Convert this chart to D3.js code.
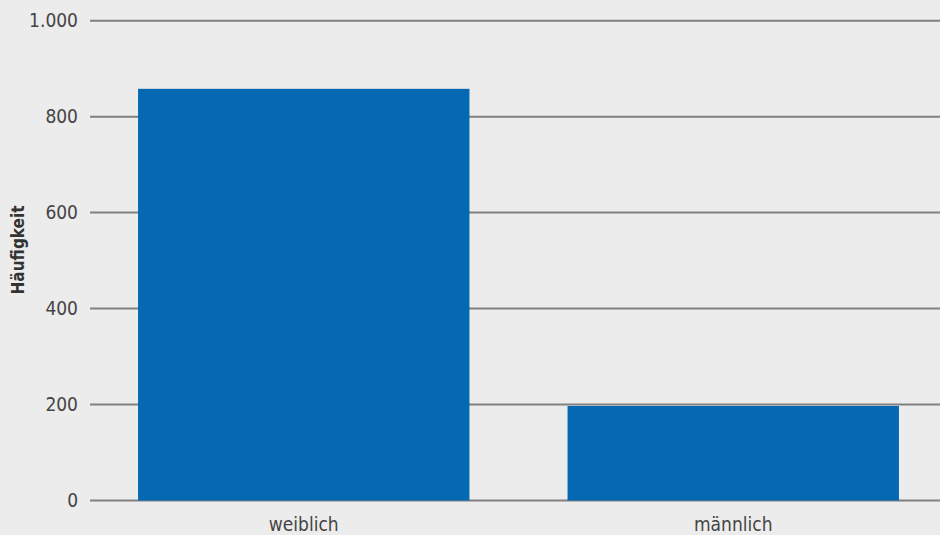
<!DOCTYPE html>
<html>
<head>
<meta charset="utf-8">
<script src="https://cdn.jsdelivr.net/npm/d3@7"></script>
<style>
  html, body { margin: 0; padding: 0; background: #ececec; }
  svg { display: block; }
  .lbl { font-family: "Liberation Sans Narrow", "DejaVu Sans Condensed", sans-serif; fill: #444; }
</style>
</head>
<body>
<script>
const categories = ["weiblich", "männlich"];
const values = [858, 197];
const yTicks = [0, 200, 400, 600, 800, 1000];
const yTitle = "Häufigkeit";

const width = 940, height = 535;

const svg = d3.select("body")
  .append("svg")
  .attr("width", width)
  .attr("height", height);

const de = d3.formatLocale({ decimal: ",", thousands: ".", grouping: [3], currency: ["", " €"] });
const fmt = de.format(",d");

const x = d3.scaleBand()
  .domain(categories)
  .range([97, 940])
  .paddingInner(0.2284)
  .paddingOuter(0.0956);

const y = d3.scaleLinear()
  .domain([0, 1000])
  .range([500.5, 20.7]);

// grid lines
svg.append("g")
  .selectAll("line")
  .data(yTicks)
  .join("line")
  .attr("x1", 90)
  .attr("x2", width)
  .attr("y1", d => y(d))
  .attr("y2", d => y(d))
  .attr("stroke", "#808080")
  .attr("stroke-width", 2);

// bars
svg.append("g")
  .selectAll("rect")
  .data(values)
  .join("rect")
  .attr("x", (d, i) => x(categories[i]))
  .attr("width", x.bandwidth())
  .attr("y", d => y(d))
  .attr("height", d => y(0) - y(d))
  .attr("fill", "#0568b3");

// y tick labels
svg.append("g")
  .selectAll("text")
  .data(yTicks)
  .join("text")
  .attr("class", "lbl")
  .attr("x", 78)
  .attr("y", d => y(d))
  .attr("dy", "0.35em")
  .attr("text-anchor", "end")
  .style("font-size", "19px")
  .text(d => fmt(d));

// x labels
svg.append("g")
  .selectAll("text")
  .data(categories)
  .join("text")
  .attr("class", "lbl")
  .attr("x", d => x(d) + x.bandwidth() / 2)
  .attr("y", 531)
  .attr("text-anchor", "middle")
  .style("font-size", "19px")
  .text(d => d);

// y title
svg.append("text")
  .attr("class", "lbl")
  .attr("transform", "translate(24,250) rotate(-90)")
  .attr("text-anchor", "middle")
  .style("font-size", "17px")
  .style("font-weight", "bold")
  .style("fill", "#333")
  .text(yTitle);
</script>
</body>
</html>
